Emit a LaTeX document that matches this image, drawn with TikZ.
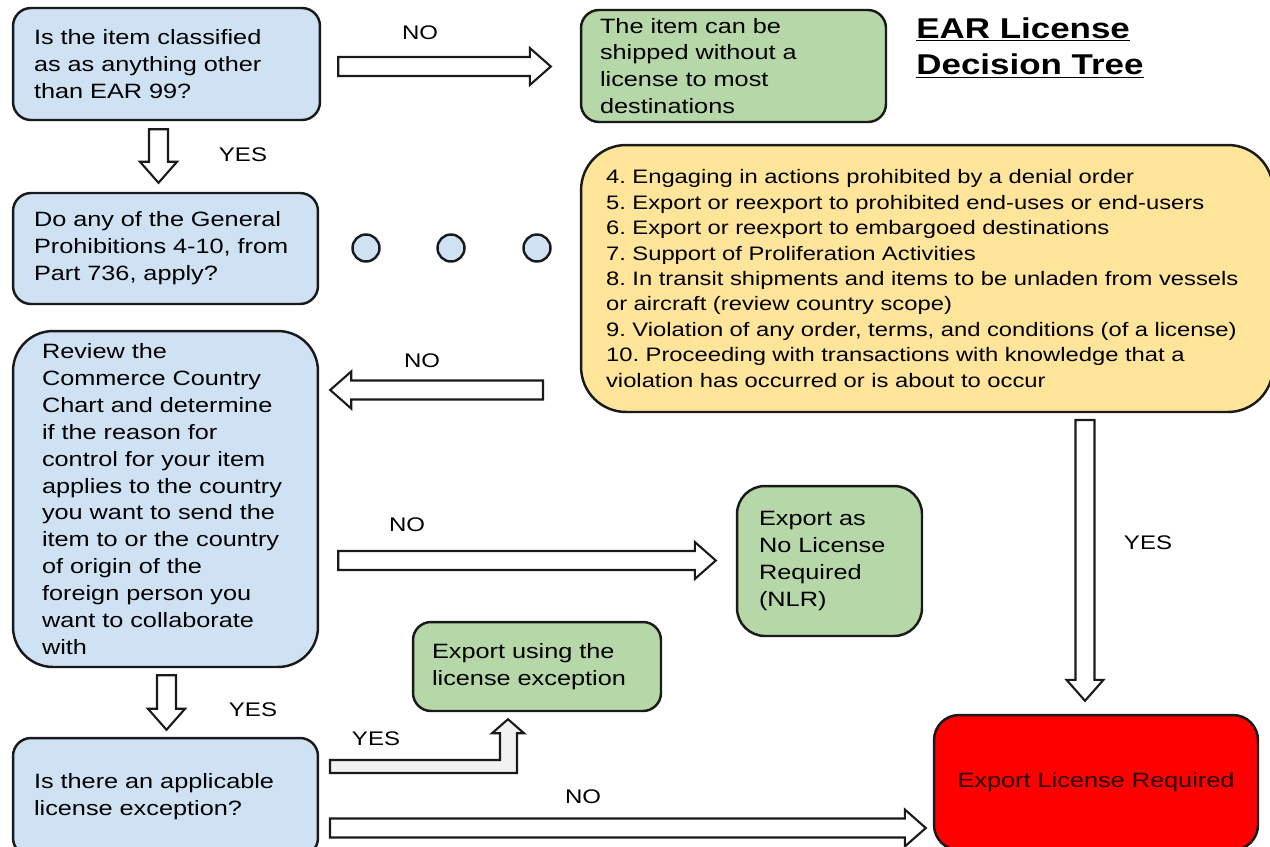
\documentclass[tikz,border=0pt]{standalone}
\usepackage{fontspec}
\setmainfont{Liberation Sans}[FakeStretch=1.22]
\frenchspacing
\usetikzlibrary{calc}
\definecolor{qblue}{HTML}{CFE2F3}
\definecolor{okgreen}{HTML}{B6D7A8}
\definecolor{gpyellow}{HTML}{FFE599}
\definecolor{lred}{HTML}{FF0000}
\definecolor{edge}{HTML}{1A1A1A}

\begin{document}
\begin{tikzpicture}[x=0.02cm,y=-0.02cm,
		box/.style={draw=edge,line width=1.4pt,rounded corners=0.36cm,align=left,inner ysep=0pt,inner xsep=0.42cm,font=\fontsize{11.8}{15.3}\selectfont},
		qbox/.style={box,fill=qblue,minimum width=6.1cm},
		okbox/.style={box,fill=okgreen},
		lbl/.style={font=\fontsize{11.2}{13}\selectfont},
		blk/.style={draw=edge,line width=1.2pt,fill=white,line join=miter}]
		\newcommand{\blkarrow}[2]{%
			\coordinate (hb) at ($(#2)!0.42cm!(#1)$);
			\draw[blk] ($(#1)!0.19cm!90:(#2)$) -- ($(hb)!0.19cm!90:(#2)$) -- ($(hb)!0.37cm!90:(#2)$) -- (#2)
				-- ($(hb)!0.37cm!-90:(#2)$) -- ($(hb)!0.19cm!-90:(#2)$) -- ($(#1)!0.19cm!-90:(#2)$) -- cycle;}
		
		\clip (0,0) rectangle (1270,846);
		\fill[white] (0,0) rectangle (1270,846);
		
		% questions
		\node[qbox,minimum width=6.14cm,minimum height=2.24cm,text width=5.3cm] (q1) at (166.5,64) {Is the item classified\\as as anything other\\than EAR 99?};
		\node[qbox,minimum height=2.22cm,text width=5.26cm] (q2) at (165.5,248.5) {Do any of the General\\Prohibitions 4-10, from\\Part 736, apply?};
		\node[qbox,minimum height=6.72cm,text width=4.94cm,inner xsep=0.58cm,rounded corners=0.8cm] (q3) at (165.5,499) {Review the\\Commerce Country\\Chart and determine\\if the reason for\\control for your item\\applies to the country\\you want to send the\\item to or the country\\of origin of the\\foreign person you\\want to collaborate\\with};
		\node[qbox,minimum height=2.36cm,text width=5.26cm] (q4) at (165.5,797) {Is there an applicable\\license exception?};
		
		% outcomes
		\node[okbox,minimum width=6.1cm,minimum height=2.24cm,text width=5.34cm,inner xsep=0.38cm] (ship) at (733.5,66) {The item can be\\shipped without a\\license to most\\destinations};
		\node[okbox,minimum width=3.7cm,minimum height=3cm,text width=2.82cm,inner xsep=0.44cm,rounded corners=0.56cm] (nlr) at (829.5,561) {Export as\\No License\\Required\\(NLR)};
		\node[okbox,minimum width=4.96cm,minimum height=1.78cm,text width=4.2cm,inner xsep=0.38cm] (lex) at (537,666.5) {Export using the\\license exception};
		\node[box,fill=lred,align=center,minimum width=6.48cm,minimum height=2.7cm,rounded corners=0.5cm,text=black!85!red] (elr) at (1096,782.5) {Export License Required};
		
		\node[box,fill=gpyellow,minimum width=13.84cm,minimum height=5.34cm,text width=12.84cm,inner xsep=0.5cm,rounded corners=0.9cm,font=\fontsize{11.1}{14.5}\selectfont] (gp) at (927,278.5) {4. Engaging in actions prohibited by a denial order\\5. Export or reexport to prohibited end-uses or end-users\\6. Export or reexport to embargoed destinations\\7. Support of Proliferation Activities\\8. In transit shipments and items to be unladen from vessels\\or aircraft (review country scope)\\9. Violation of any order, terms, and conditions (of a license)\\10. Proceeding with transactions with knowledge that a\\violation has occurred or is about to occur};
		
		\foreach \i/\x in {1/366,2/451,3/537}
			\node[circle,draw=edge,line width=1.4pt,fill=qblue,minimum size=0.54cm,inner sep=0pt] (dot\i) at (\x,248) {};
		
		\node[anchor=west,align=left,inner sep=0pt,font=\fontsize{16.3}{21}\selectfont\bfseries] (title) at (916,48) {\underline{EAR License}\\\underline{Decision Tree}};
		
		% block arrows
		\coordinate (n1a) at ($(q1.east)+(17,2.5)$);
		\coordinate (n1b) at ($(ship.west)+(-29,0.5)$);
		\coordinate (y1a) at ($(q1.south)+(-8,8)$);
		\coordinate (y1b) at ($(q2.north)+(-7,-9)$);
		\coordinate (n2a) at (543,390);
		\coordinate (n2b) at ($(q3.east)+(11,-109)$);
		\coordinate (n3a) at ($(q3.east)+(19,61.5)$);
		\coordinate (n3b) at ($(nlr.west)+(-20,-0.5)$);
		\coordinate (y2a) at ($(q3.south)+(1,7)$);
		\coordinate (y2b) at ($(q4.north)+(1,-7)$);
		\coordinate (n4a) at (330,828);
		\coordinate (n4b) at ($(elr.west)+(-7,45.5)$);
		\coordinate (y4a) at (1085,420);
		\coordinate (y4b) at ($(elr.north)+(-11,-13)$);
		
		\blkarrow{n1a}{n1b}
		\blkarrow{y1a}{y1b}
		\blkarrow{n2a}{n2b}
		\blkarrow{n3a}{n3b}
		\blkarrow{y2a}{y2b}
		\blkarrow{n4a}{n4b}
		\blkarrow{y4a}{y4b}
		
		\coordinate (y3a) at (330,766.5);
		\coordinate (y3b) at ($(lex.south)+(-29,7)$);
		\draw[blk,fill=black!5] ($(y3a)+(0,-6.5)$) -| ($(y3b)+(-8,14)$) -- ++(-8,0) -- (y3b) -- ++(16,14) -- ++(-7,0) |- ($(y3a)+(0,6.5)$) -- cycle;
		
		% labels
		\node[lbl] (no1) at (420,33) {NO};
		\node[lbl] (yes1) at (243,155) {YES};
		\node[lbl] (no2) at (422,361) {NO};
		\node[lbl] (no3) at (407,525) {NO};
		\node[lbl] (yes2) at (253,710) {YES};
		\node[lbl] (yes3) at (376,739) {YES};
		\node[lbl] (no4) at (583,797) {NO};
		\node[lbl] (yes4) at (1148,543) {YES};
\end{tikzpicture}
\end{document}
